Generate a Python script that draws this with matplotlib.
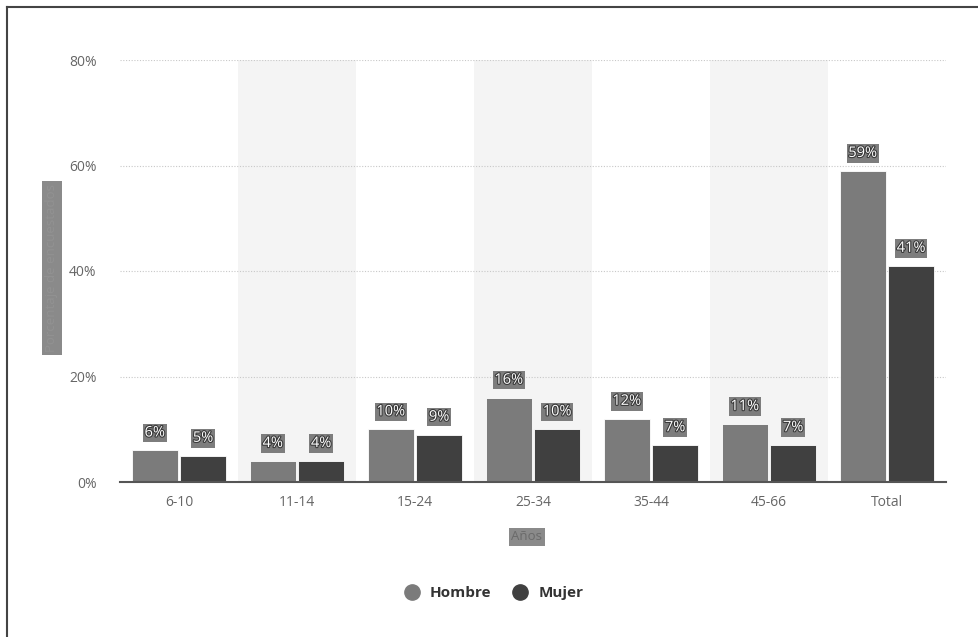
import matplotlib
matplotlib.use("Agg")
import matplotlib.pyplot as plt
import matplotlib.patheffects as pe
from matplotlib.lines import Line2D
import numpy as np

categories = ["6-10", "11-14", "15-24", "25-34", "35-44", "45-66", "Total"]
hombre = [6, 4, 10, 16, 12, 11, 59]
mujer = [5, 4, 9, 10, 7, 7, 41]
y_ticks = [0, 20, 40, 60, 80]
series_names = ["Hombre", "Mujer"]
colors = ["#7b7b7b", "#404040"]

plt.rcParams["font.family"] = ["Open Sans", "DejaVu Sans"]

fig = plt.figure(figsize=(9.79, 6.37), dpi=100)
ax = fig.add_axes([120 / 979, 1 - 482 / 637, 826 / 979, 422 / 637])

x = np.arange(len(categories))
width = 0.39
offset = 0.205

# alternating background bands
for i in range(1, len(categories), 2):
    ax.axvspan(i - 0.5, i + 0.5, color="#f4f4f4", zorder=0, lw=0)

for vals, off, col in [(hombre, -offset, colors[0]), (mujer, offset, colors[1])]:
    ax.bar(x + off, vals, width=width, color=col, edgecolor="white",
           linewidth=0.6, zorder=3)
    for xi, v in zip(x + off, vals):
        t = ax.annotate(f"{v}%", (xi, v), xytext=(0, 12.5), textcoords="offset points",
                        ha="center", va="center", fontsize=10.5, color="white",
                        zorder=5,
                        bbox=dict(boxstyle="square,pad=0.12", fc="#7d7d7d", ec="none"))
        t.set_path_effects([pe.withStroke(linewidth=1.6, foreground="#3a3a3a")])

ax.set_xlim(-0.5, len(categories) - 0.5)
ax.set_ylim(0, 80)
ax.set_yticks(y_ticks)
ax.set_yticklabels([f"{t}%" for t in y_ticks])
ax.set_xticks(x)
ax.set_xticklabels(categories)
ax.tick_params(axis="y", length=0, pad=17, labelsize=10, labelcolor="#666666")
ax.tick_params(axis="x", length=0, pad=9, labelsize=10, labelcolor="#666666")

for t in y_ticks[1:]:
    ax.axhline(t, color="#c8c8c8", lw=0.8, ls=(0, (1, 1.5)), zorder=1)

for s in ["top", "right", "left"]:
    ax.spines[s].set_visible(False)
ax.spines["bottom"].set_color("#555555")
ax.spines["bottom"].set_linewidth(1.5)
ax.spines["bottom"].set_zorder(4)

# axis titles in grey boxes
fig.text(52 / 979, 1 - 268 / 637, "Porcentaje de encuestados", rotation=90,
         ha="center", va="center", fontsize=9.5, color="#929292",
         bbox=dict(boxstyle="square,pad=0.25", fc="#8a8a8a", ec="none"))
fig.text(527 / 979, 1 - 537 / 637, "Años", ha="center", va="center",
         fontsize=9.5, color="#6a6a6a",
         bbox=dict(boxstyle="square,pad=0.2", fc="#8a8a8a", ec="none"))

# legend
handles = [Line2D([0], [0], marker="o", ls="none", markersize=11,
                  markerfacecolor=c, markeredgecolor=c) for c in colors]
leg = fig.legend(handles, series_names, loc="center", bbox_to_anchor=(490 / 979, 1 - 593 / 637),
                 ncol=2, frameon=False, handletextpad=0.2, columnspacing=0.9,
                 prop=dict(weight="bold", size=11))
for txt in leg.get_texts():
    txt.set_color("#333333")

# outer frame (top and left edges)
fig.add_artist(Line2D([7 / 979, 1], [1 - 7 / 637, 1 - 7 / 637], transform=fig.transFigure,
                      color="#444444", lw=1.5))
fig.add_artist(Line2D([7 / 979, 7 / 979], [0, 1 - 7 / 637], transform=fig.transFigure,
                      color="#444444", lw=1.5))

fig.savefig("out.png", dpi=100)
